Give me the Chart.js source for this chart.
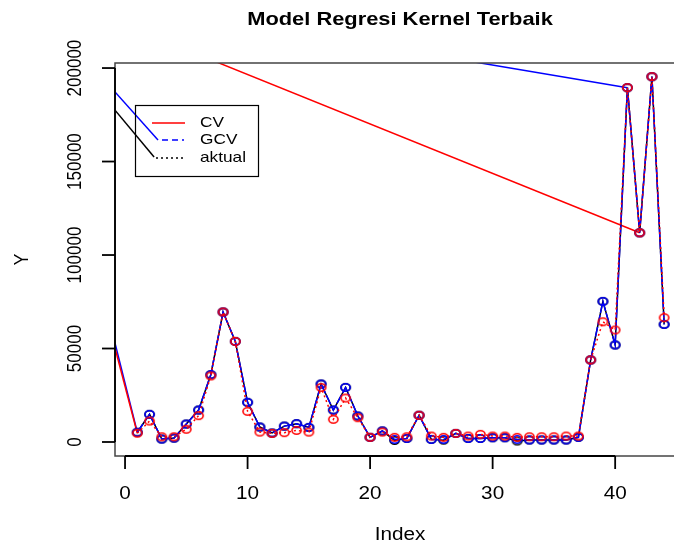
<!DOCTYPE html>
<html><head><meta charset="utf-8">
<script src="https://cdn.jsdelivr.net/npm/chart.js@4/dist/chart.umd.min.js"></script>
<style>html,body{margin:0;padding:0;background:#fff;overflow:hidden;width:674px;height:544px}</style>
</head><body>
<canvas id="c" width="700" height="544" style="width:700px;height:544px;display:block"></canvas>
<script>
// ---- data ----
const index = [1,2,3,4,5,6,7,8,9,10,11,12,13,14,15,16,17,18,19,20,21,22,23,24,25,26,27,28,29,30,31,32,33,34,35,36,37,38,39,40,41,42,43,44];
const aktual = [5200,14800,1600,2100,9600,17100,36000,69500,53800,21200,8000,4800,8500,9800,7800,31000,17100,29200,13900,2500,5900,800,1900,14300,1400,1000,4600,1900,1900,2300,2300,500,1100,1100,1100,1100,2500,43900,75200,51900,189500,111900,195400,62900];
const gcv    = [5200,14800,1600,2100,9600,17100,36000,69500,53800,21200,8000,4800,8500,9800,7800,31000,17100,29200,13900,2500,5900,1400,1900,14300,1400,1400,4600,1900,1900,2300,2300,1400,1100,1100,1100,1100,2500,43900,75200,51900,189500,111900,195400,62900];
const cv     = [4700,11200,2800,2800,6800,14100,35300,69500,53800,16400,5300,4600,5000,6200,5300,29200,12100,23500,13000,2500,5300,2500,2800,14300,3200,2500,4600,3200,4100,3200,3200,2500,2800,2800,2800,3200,3200,43900,64300,59900,189500,111900,195400,66500];
// stray connecting segments visible in the reference (x, y pairs)
const cvStrayLeftX = [-0.82, 1];   const cvStrayLeftY = [50300, 4700];
const gcvStrayLeftX = [-0.82, 1];  const gcvStrayLeftY = [52800, 5200];
const cvStrayTopX = [0, 42];       const cvStrayTopY = [223000, 111900];
const gcvStrayTopX = [20, 41];     const gcvStrayTopY = [212600, 189500];
const gcvStrayLegX = [-0.82, 2.69]; const gcvStrayLegY = [187200, 161500];
const aktStrayLegX = [-0.82, 2.37]; const aktStrayLegY = [177500, 152400];
const xTicks = [0,10,20,30,40];
const yTicks = [0,50000,100000,150000,200000];
const legendLabels = ['CV','GCV','aktual'];
const title = 'Model Regresi Kernel Terbaik';
const xTitle = 'Index', yTitle = 'Y';

const pts = (xs, ys) => xs.map((x,i)=>({x:x, y:ys[i]}));
const FONT = '"Liberation Sans", Arial, sans-serif';
const SX = 1.15;

function ring(color){
  const c = document.createElement('canvas'); c.width = 13; c.height = 11;
  const g = c.getContext('2d'); g.strokeStyle = color; g.lineWidth = 1.6;
  g.beginPath(); g.ellipse(6.5, 5.5, 4.6, 3.7, 0, 0, Math.PI*2); g.stroke();
  return c;
}

function series(data, color, dash, order, marker){
  return {data, borderColor:color, borderWidth:1.5, borderDash:dash,
    pointRadius: marker ? 5 : 0, pointHoverRadius: marker ? 5 : 0,
    pointStyle: marker ? ring(color) : 'circle',
    pointBorderColor:color, pointBackgroundColor:'rgba(0,0,0,0)',
    tension:0, fill:false, order, clip:0};
}

function txt(ctx, s, x, y, font, rot){
  ctx.save(); ctx.translate(x,y); ctx.scale(SX,1); if(rot) ctx.rotate(-Math.PI/2);
  ctx.font = font; ctx.textAlign='center'; ctx.textBaseline='middle'; ctx.fillStyle='#000';
  ctx.fillText(s,0,0); ctx.restore();
}

const decor = {
  id:'decor',
  afterDraw(chart){
    const ctx = chart.ctx, a = chart.chartArea, xs = chart.scales.x, ys = chart.scales.y;
    ctx.save();
    ctx.strokeStyle='#444'; ctx.lineWidth=1.5; ctx.setLineDash([]);
    ctx.strokeRect(a.left, a.top, a.right-a.left, a.bottom-a.top);
    ctx.strokeStyle='#000'; ctx.lineWidth=1.8;
    ctx.beginPath(); ctx.moveTo(a.left, ys.getPixelForValue(yTicks[0])); ctx.lineTo(a.left, ys.getPixelForValue(yTicks[yTicks.length-1])); ctx.stroke();
    yTicks.forEach(v=>{ const p=ys.getPixelForValue(v);
      ctx.beginPath(); ctx.moveTo(a.left-13,p); ctx.lineTo(a.left,p); ctx.stroke();
      txt(ctx, String(v), 75.5, p, '17px '+FONT, true); });
    ctx.beginPath(); ctx.moveTo(xs.getPixelForValue(xTicks[0]), a.bottom); ctx.lineTo(xs.getPixelForValue(xTicks[xTicks.length-1]), a.bottom); ctx.stroke();
    xTicks.forEach(v=>{ const p=xs.getPixelForValue(v);
      ctx.beginPath(); ctx.moveTo(p,a.bottom); ctx.lineTo(p,a.bottom+13); ctx.stroke();
      txt(ctx, String(v), p, 494, '18px '+FONT, false); });
    const cx = (a.left+a.right)/2;
    txt(ctx, xTitle, cx, 535, '18px '+FONT, false);
    txt(ctx, yTitle, 22, (a.top+a.bottom)/2, '18px '+FONT, true);
    txt(ctx, title, cx, 20, 'bold 19px '+FONT, false);
    ctx.strokeStyle='#000'; ctx.lineWidth=1.2;
    ctx.strokeRect(135.5, 105.5, 123, 71);
    const leg = [{c:'#ff0000', d:[], x1:152, x2:185, y:123},
                 {c:'#0000ff', d:[6,4], x1:162, x2:184, y:140},
                 {c:'#000000', d:[2,3], x1:156, x2:184, y:158}];
    leg.forEach((l,i)=>{
      ctx.strokeStyle=l.c; ctx.lineWidth=1.5; ctx.setLineDash(l.d);
      ctx.beginPath(); ctx.moveTo(l.x1,l.y); ctx.lineTo(l.x2,l.y); ctx.stroke();
      ctx.setLineDash([]);
      ctx.save(); ctx.translate(200,l.y); ctx.scale(SX,1); ctx.font='15px '+FONT;
      ctx.textAlign='left'; ctx.textBaseline='middle'; ctx.fillStyle='#000';
      ctx.fillText(legendLabels[i],0,0); ctx.restore();
    });
    ctx.restore();
  }
};

new Chart(document.getElementById('c'), {
  type:'line',
  data:{datasets:[
    series(pts(index, cv), '#ff0000', [2,3], 1, true),
    series(pts(index, gcv), '#0000ff', [10,2], 2, true),
    series(pts(index, aktual), '#000000', [], 3, true),
    series(pts(cvStrayLeftX, cvStrayLeftY), '#ff0000', [], 4, false),
    series(pts(gcvStrayLeftX, gcvStrayLeftY), '#0000ff', [], 4, false),
    series(pts(cvStrayTopX, cvStrayTopY), '#ff0000', [], 4, false),
    series(pts(gcvStrayTopX, gcvStrayTopY), '#0000ff', [], 4, false),
    series(pts(gcvStrayLegX, gcvStrayLegY), '#0000ff', [], 4, false),
    series(pts(aktStrayLegX, aktStrayLegY), '#000000', [], 4, false)
  ]},
  options:{
    animation:false, responsive:false, devicePixelRatio:1,
    layout:{padding:{left:115, top:63, right:15, bottom:88}},
    scales:{
      x:{type:'linear', min:-0.82, max:45.7, display:false},
      y:{type:'linear', min:-7490, max:202700, display:false}
    },
    plugins:{legend:{display:false}, tooltip:{enabled:false}, title:{display:false}}
  },
  plugins:[decor]
});
</script>
</body></html>
